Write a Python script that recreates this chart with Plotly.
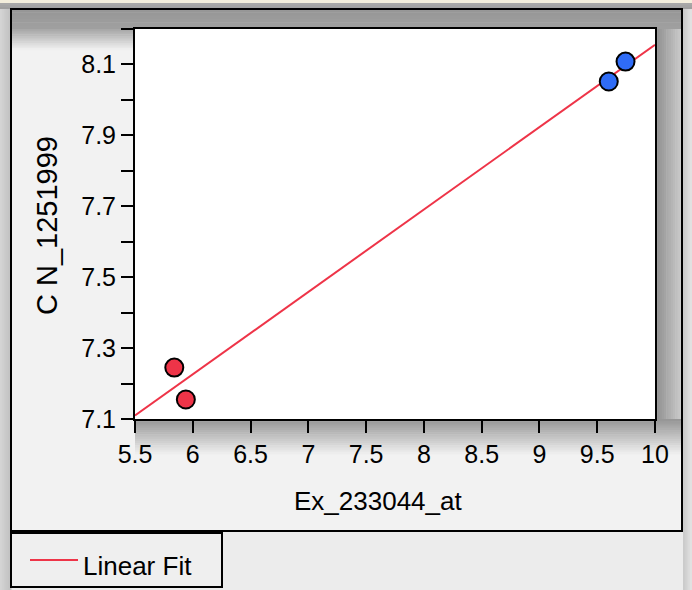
import numpy as np
import plotly.graph_objects as go

# Expression vs copy-number values for the four samples
x_low = [5.84, 5.94]
y_low = [7.245, 7.155]
x_high = [9.60, 9.745]
y_high = [8.052, 8.108]

x_title = "Ex_233044_at"
y_title = "C N_1251999"
fit_label = "Linear Fit"

x_ticks = [5.5, 6, 6.5, 7, 7.5, 8, 8.5, 9, 9.5, 10]
y_ticks = [7.1, 7.2, 7.3, 7.4, 7.5, 7.6, 7.7, 7.8, 7.9, 8.0, 8.1, 8.2]
y_labeled = [7.1, 7.3, 7.5, 7.7, 7.9, 8.1]

RED = "#ee3448"
BLUE = "#2f6cf6"

# least-squares line through all samples
xs = np.array(x_low + x_high)
ys = np.array(y_low + y_high)
slope, intercept = np.polyfit(xs, ys, 1)
fit_x = np.array([5.5, 10.0])
fit_y = slope * fit_x + intercept

# page geometry (pixels) for the plot frame
PW, PH = 692, 590
L, R, T, B = 135, 655, 29, 419
W, H = R - L, B - T


def px(x):
    return (x - L) / W


def py(y):
    return (B - y) / H


shapes = []


def rect(x0, y0, x1, y1, fill, line=None, width=0):
    shapes.append(dict(
        type="rect", xref="paper", yref="paper", layer="below",
        x0=px(x0), x1=px(x1), y0=py(y1), y1=py(y0),
        fillcolor=fill,
        line=dict(color=line or fill, width=width),
    ))


def gray(v):
    v = int(round(v))
    return f"rgb({v},{v},{v})"


def gradient(x0, y0, x1, y1, g0, g1, steps, horizontal):
    for i in range(steps):
        t0 = i / steps
        t1 = (i + 1) / steps
        g = g0 + (g1 - g0) * (i + 0.5) / steps
        if horizontal:
            rect(x0 + (x1 - x0) * t0, y0, x0 + (x1 - x0) * t1 + 0.5, y1, gray(g))
        else:
            rect(x0, y0 + (y1 - y0) * t0, x1, y0 + (y1 - y0) * t1 + 0.5, gray(g))


# window chrome strip and outer shading
rect(0, 0, PW, 3, "#f3eedc")
gradient(0, 3, PW, 9, 170, 158, 3, False)
gradient(0, 9, 11, PH, 214, 190, 6, True)
gradient(683, 9, PW, PH, 200, 228, 5, True)

# framed panel with soft shading
rect(11, 9, 682, 531, "#f2f2f2")
gradient(11, 9, 682, 29, 150, 160, 6, False)
gradient(11, 29, 135, 50, 165, 242, 12, False)
gradient(655, 29, 682, 440, 140, 205, 12, True)
gradient(135, 419, 682, 454, 148, 240, 16, False)
shapes.append(dict(
    type="rect", xref="paper", yref="paper", layer="below",
    x0=px(11), x1=px(682), y0=py(531), y1=py(9),
    fillcolor="rgba(0,0,0,0)", line=dict(color="black", width=2),
))
rect(L, T, R, B, "white")

# legend box
rect(11, 533, 222, 587, "#efefef", line="black", width=2)
shapes.append(dict(
    type="line", xref="paper", yref="paper",
    x0=px(30), x1=px(78), y0=py(560), y1=py(560),
    line=dict(color=RED, width=2),
))

fig = go.Figure()
fig.add_trace(go.Scatter(
    x=fit_x, y=fit_y, mode="lines", name=fit_label,
    line=dict(color=RED, width=2), showlegend=False, hoverinfo="skip",
))
fig.add_trace(go.Scatter(
    x=x_low, y=y_low, mode="markers", showlegend=False,
    marker=dict(size=18, color=RED, line=dict(color="black", width=2)),
))
fig.add_trace(go.Scatter(
    x=x_high, y=y_high, mode="markers", showlegend=False,
    marker=dict(size=18, color=BLUE, line=dict(color="black", width=2)),
))

tick_font = dict(family="Liberation Sans, Arial, sans-serif", size=25, color="black")

fig.update_xaxes(
    range=[5.5, 10], tickmode="array", tickvals=x_ticks,
    ticktext=[f"{v:g}" for v in x_ticks],
    ticks="outside", ticklen=12, tickwidth=2, tickcolor="black",
    showline=True, linecolor="black", linewidth=2, mirror=True,
    showgrid=False, zeroline=False, tickfont=tick_font,
)
fig.update_yaxes(
    range=[7.1, 8.2], tickmode="array", tickvals=y_ticks,
    ticktext=[f"{v:.1f}" if any(abs(v - u) < 1e-9 for u in y_labeled) else "" for v in y_ticks],
    ticks="outside", ticklen=12, tickwidth=2, tickcolor="black",
    showline=True, linecolor="black", linewidth=2, mirror=True,
    showgrid=False, zeroline=False, tickfont=tick_font,
)

title_font = dict(family="Liberation Sans, Arial, sans-serif", size=26, color="black")
annotations = [
    dict(text=x_title, xref="paper", yref="paper", x=px(378), y=py(501),
         xanchor="center", yanchor="middle", showarrow=False, font=title_font),
    dict(text=y_title, xref="paper", yref="paper", x=px(47), y=py(226),
         xanchor="center", yanchor="middle", textangle=-90, showarrow=False,
         font=dict(title_font, size=29)),
    dict(text=fit_label, xref="paper", yref="paper", x=px(81), y=py(566),
         xanchor="left", yanchor="middle", showarrow=False,
         font=dict(title_font, size=26)),
]

fig.update_layout(
    width=PW, height=PH,
    margin=dict(l=L, r=PW - R, t=T, b=PH - B, pad=0),
    paper_bgcolor="#ececec", plot_bgcolor="white",
    shapes=shapes, annotations=annotations, showlegend=False,
)

fig.write_html("out.html")
